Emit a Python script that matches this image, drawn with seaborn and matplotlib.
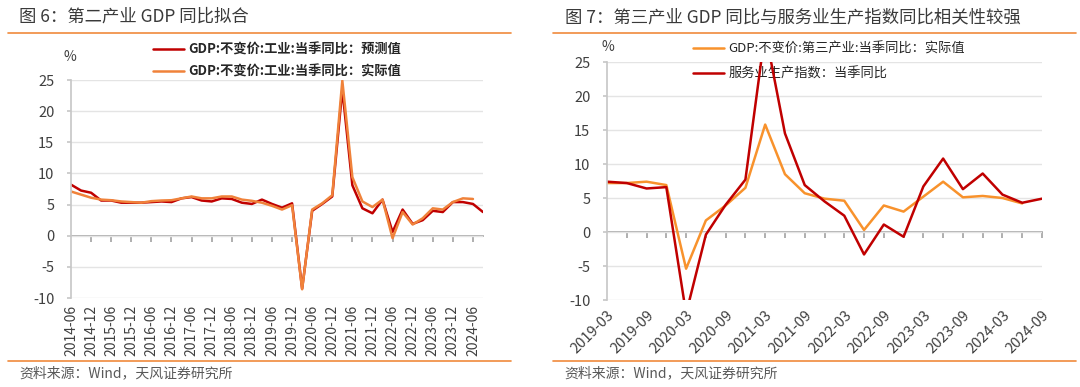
import numpy as np
import pandas as pd
import matplotlib
matplotlib.use('Agg')
import matplotlib.pyplot as plt
import seaborn as sns
from matplotlib.lines import Line2D

sns.set_theme(style='white')
plt.rcParams['font.family'] = ['Noto Sans CJK SC', 'DejaVu Sans']
plt.rcParams['axes.unicode_minus'] = False

# ---- data ----
# fig 6: secondary industry GDP yoy, quarterly 2014-06 .. 2024-09
left_quarters = pd.period_range('2014Q2', '2024Q3', freq='Q').strftime('%Y-%m')
left_forecast = [8.2, 7.25, 6.9, 5.65, 5.65, 5.3, 5.3, 5.3, 5.4, 5.5,
                 5.4, 6.0, 6.2, 5.65, 5.5, 6.0, 5.9, 5.3, 5.1, 5.8,
                 5.1, 4.5, 5.2, -8.5, 4.0, 5.1, 6.3, 23.5, 8.1, 4.4,
                 3.6, 5.8, 0.6, 4.2, 1.9, 2.5, 4.0, 3.8, 5.4, 5.4,
                 5.1, 3.8]
left_actual = [7.1, 6.6, 6.1, 5.8, 5.7, 5.5, 5.4, 5.3, 5.55, 5.65,
               5.7, 6.0, 6.3, 6.0, 6.0, 6.3, 6.3, 5.8, 5.6, 5.3,
               4.8, 4.2, 4.9, -8.6, 4.2, 5.2, 6.5, 24.9, 9.4, 5.5,
               4.6, 5.8, -0.4, 3.8, 1.8, 2.8, 4.4, 4.2, 5.4, 6.0,
               5.9]
left_labels = ['2014-06', '2014-12', '2015-06', '2015-12', '2016-06', '2016-12',
               '2017-06', '2017-12', '2018-06', '2018-12', '2019-06', '2019-12',
               '2020-06', '2020-12', '2021-06', '2021-12', '2022-06', '2022-12',
               '2023-06', '2023-12', '2024-06']

# fig 7: tertiary GDP yoy vs services production index, quarterly 2019-03 .. 2024-09
right_quarters = pd.period_range('2019Q1', '2024Q3', freq='Q').strftime('%Y-%m')
right_gdp = [7.2, 7.2, 7.4, 6.9, -5.4, 1.7, 3.9, 6.5, 15.8, 8.5,
             5.7, 4.9, 4.6, 0.3, 3.9, 3.0, 5.2, 7.4, 5.1, 5.3,
             5.0, 4.2]
right_service = [7.4, 7.2, 6.4, 6.6, -12.0, -0.4, 4.0, 7.7, 29.5, 14.5,
                 6.9, 4.5, 2.4, -3.3, 1.1, -0.7, 6.7, 10.8, 6.3, 8.6,
                 5.5, 4.3, 4.9]
right_labels = ['2019-03', '2019-09', '2020-03', '2020-09', '2021-03', '2021-09',
                '2022-03', '2022-09', '2023-03', '2023-09', '2024-03', '2024-09']

y_ticks = [-10, -5, 0, 5, 10, 15, 20, 25]

RED = '#C00000'
ORANGE_L = '#F0823A'
ORANGE_R = '#F8922C'
GRID = '#E4E4E4'
AXC = '#C8C8C8'
ZEROC = '#A6A6A6'
TXT = '#404040'

fig = plt.figure(figsize=(10.8, 3.87), dpi=100)
axL = fig.add_axes([71/1080, 1-298/387, (483-71)/1080, (298-80)/387])
axR = fig.add_axes([607/1080, 1-300/387, (1042-607)/1080, (300-62)/387])


def style_axes(ax, n, tick_pos, label_pos, labels, rot):
    ax.set_xlim(0, n - 1)
    ax.set_ylim(-10, 25)
    ax.set_yticks(y_ticks)
    ax.grid(axis='y', color=GRID, linewidth=1)
    ax.grid(axis='x', visible=False)
    for s in ['top', 'right', 'bottom']:
        ax.spines[s].set_visible(False)
    ax.spines['left'].set_color(AXC)
    ax.tick_params(axis='y', left=True, length=3, color=AXC, labelsize=10.5,
                   labelcolor=TXT, pad=9)
    ax.set_xticks(label_pos)
    if rot == 90:
        ax.set_xticklabels(labels, rotation=90, fontsize=10, color=TXT)
        ax.tick_params(axis='x', length=0, pad=5)
    else:
        ax.set_xticklabels(labels, rotation=45, ha='right', rotation_mode='anchor',
                           fontsize=10.5, color=TXT)
        ax.tick_params(axis='x', length=0, pad=6)
    ax.set_xlabel('')
    ax.set_ylabel('')
    # zero line with tick marks (Excel style axis crossing at 0)
    sec = ax.secondary_xaxis(10/35)
    sec.set_xticks(tick_pos)
    sec.tick_params(length=4, color=ZEROC, labelbottom=False)
    sec.spines['bottom'].set_color(ZEROC)


# ---- left chart ----
nL = len(left_quarters)
sns.lineplot(x=np.arange(len(left_forecast)), y=left_forecast, ax=axL, color=RED,
             linewidth=1.8, label='GDP:不变价:工业:当季同比：预测值')
sns.lineplot(x=np.arange(len(left_actual)), y=left_actual, ax=axL, color=ORANGE_L,
             linewidth=1.8, label='GDP:不变价:工业:当季同比：实际值')
style_axes(axL, nL, list(range(2, nL, 2)), list(range(0, nL, 2)), left_labels, 90)
legL = axL.legend(loc='upper left', bbox_to_anchor=(146/1080, 1-36/387),
                  bbox_transform=fig.transFigure, frameon=False,
                  prop={'size': 9.5, 'weight': 'bold'}, handlelength=2.4,
                  handletextpad=0.3, labelspacing=0.6, borderpad=0)
for t in legL.get_texts():
    t.set_color('#262626')
fig.text(63/1080, 1-57/387, '%', fontsize=10, color=TXT, va='center')

# ---- right chart ----
nR = len(right_quarters)
sns.lineplot(x=np.arange(len(right_gdp)), y=right_gdp, ax=axR, color=ORANGE_R,
             linewidth=1.8, label='GDP:不变价:第三产业:当季同比：实际值')
sns.lineplot(x=np.arange(len(right_service)), y=right_service, ax=axR, color=RED,
             linewidth=1.8, label='服务业生产指数：当季同比')
style_axes(axR, nR, list(range(1, nR)), list(range(0, nR, 2)), right_labels, 45)
legR = axR.legend(loc='upper left', bbox_to_anchor=(686/1080, 1-36/387),
                  bbox_transform=fig.transFigure, frameon=False,
                  prop={'size': 9.5}, handlelength=2.4,
                  handletextpad=0.3, labelspacing=0.9, borderpad=0)
legR.set_zorder(1)
for t in legR.get_texts():
    t.set_color('#262626')
fig.text(601/1080, 1-47/387, '%', fontsize=10, color=TXT, va='center')

# ---- titles, rules, sources ----
fig.text(19/1080, 1-17/387, '图 6：第二产业 GDP 同比拟合', fontsize=12.5,
         color='#3A3A3A', va='center')
fig.text(565/1080, 1-17/387, '图 7：第三产业 GDP 同比与服务业生产指数同比相关性较强',
         fontsize=12.5, color='#3A3A3A', va='center')
for x0, x1 in [(8, 511), (553, 1076)]:
    for yy in [33, 361]:
        fig.add_artist(Line2D([x0/1080, x1/1080], [1-yy/387, 1-yy/387],
                              transform=fig.transFigure, color='#F08A3C', linewidth=1.2))
fig.text(19/1080, 1-373/387, '资料来源：Wind，天风证券研究所', fontsize=10,
         color='#595959', va='center')
fig.text(564/1080, 1-373/387, '资料来源：Wind，天风证券研究所', fontsize=10,
         color='#595959', va='center')

fig.savefig('out.png', dpi=100, facecolor='white')
